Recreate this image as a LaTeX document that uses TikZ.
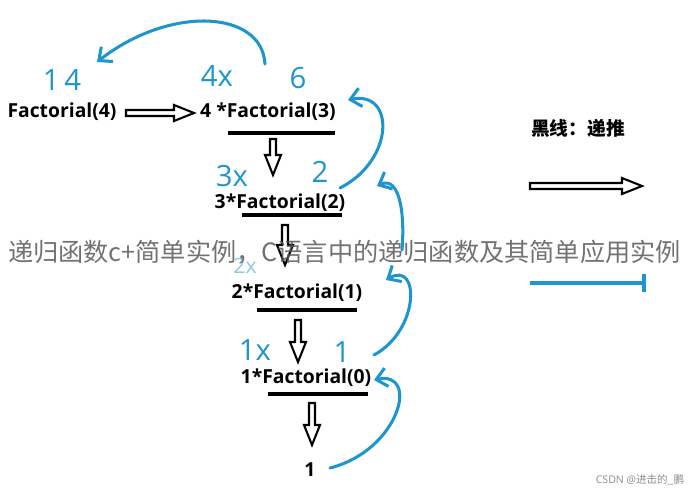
\documentclass[tikz,border=0pt]{standalone}
\usepackage{fontspec}
\setmainfont{Open Sans}
\newfontfamily\cjk{Noto Sans CJK SC}
\usetikzlibrary{arrows.meta, positioning}
\definecolor{penblue}{RGB}{30,150,205}
\tikzset{
  term/.style={font=\fontsize{16.5}{18}\selectfont\bfseries, inner sep=1pt},
  hand/.style={text=penblue, font=\fontsize{25}{27}\selectfont},
  pen/.style={penblue, line width=2.6pt, line cap=round, -{Straight Barb[length=9pt,width=16pt]}},
  bar/.style={line width=2.6pt},
  pics/hollow/.style={code={
    \draw[line width=1.8pt, line join=miter, fill=white]
      (0,-3) -- (#1-20,-3) -- (#1-20,-8) -- (#1,0) -- (#1-20,8) -- (#1-20,3) -- (0,3) -- cycle;}}
}
\begin{document}
\begin{tikzpicture}[x=0.03cm, y=-0.03cm]
  \useasboundingbox (0,0) rectangle (689,490);

  % terms of the recursion
  \node[term] (f4) at (62,112) {Factorial(4)};
  \node[term] (f3) at (268,112) {4 *Factorial(3)};
  \node[term] (f2) at (280,203) {3*Factorial(2)};
  \node[term] (f1) at (297,293) {2*Factorial(1)};
  \node[term] (f0) at (306,378) {1*Factorial(0)};
  \node[term] (one) at (310,470) {1};

  % underlines
  \draw[bar] (228,133) -- (335,133);
  \draw[bar] (242,215) -- (342,215);
  \draw[bar] (257,310) -- (357,310);
  \draw[bar] (268,394) -- (368,394);

  % hollow arrows
  \pic at (126,113) {hollow=68};
  \pic[rotate=-90] at (273,139) {hollow=36};
  \pic[rotate=-90] at (285,225) {hollow=40};
  \pic[rotate=-90] at (298,320) {hollow=42};
  \pic[rotate=-90] at (312,403) {hollow=42};

  % handwritten values
  \node[hand] at (62,80) {1\,4};
  \node[hand] at (217,76) {4x};
  \node[hand] at (298,78) {6};
  \node[hand] at (232,176) {3x};
  \node[hand] at (320,172) {2};
  \node[hand, opacity=.5, font=\fontsize{18}{20}\selectfont, inner sep=0] at (245,266) {2x};
  \node[hand] at (255,350) {1x};
  \node[hand] at (342,352) {1};

  % return path
  \draw[pen] (265,64) .. controls (262,10) and (170,5) .. (97,62);
  \draw[pen] (340,188) .. controls (395,160) and (395,90) .. (348,100);
  \draw[pen] (402,250) .. controls (405,215) and (400,175) .. (377,186);
  \draw[pen] (374,355) .. controls (420,330) and (420,260) .. (386,280);
  \draw[pen] (330,468) .. controls (400,450) and (420,370) .. (374,380);

  % legend
  \node[font=\cjk\fontsize{16}{18}\selectfont\bfseries] (lbl) at (578,128) {黑线：递推};
  \pic at (530,186) {hollow=112};
  \draw[penblue, line width=3pt, -{Bar[width=16pt]}] (530,283) -- (646,283);

  % overlay texts
  \node[font=\cjk\fontsize{21.5}{24}\selectfont, text=black!65, opacity=.85, inner sep=0] (wm) at (344.5,252) {递归函数c+简单实例，C语言中的递归函数及其简单应用实例};
  \node[font=\fontsize{9}{10}\selectfont, text=black!45, inner sep=0] (csdn) at (640,480) {CSDN @\cjk 进击的\_鹏};
\end{tikzpicture}
\end{document}
